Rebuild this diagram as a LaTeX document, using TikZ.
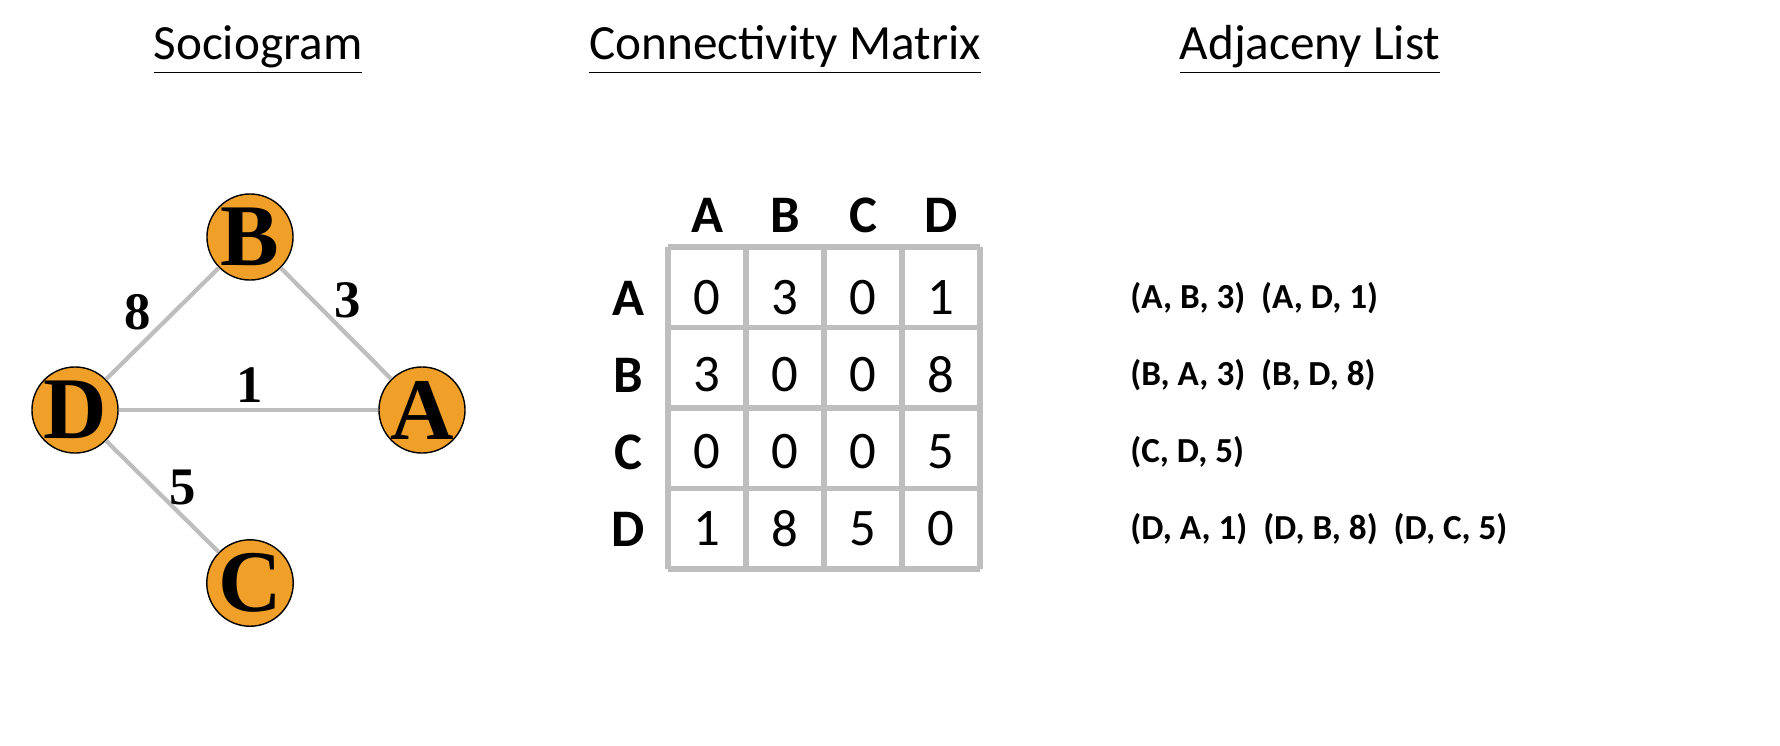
\documentclass[tikz,border=0pt]{standalone}
\usepackage{fontspec}
\setsansfont{Carlito}
\newfontfamily\timesfont{Liberation Serif}
\definecolor{nodeorange}{RGB}{240,160,40}
\definecolor{edgegray}{RGB}{190,190,190}
\begin{document}
\begin{tikzpicture}[x=0.01cm,y=-0.01cm,
  vertex/.style={shape=circle,draw=black,fill=nodeorange,minimum size=0.86cm,inner sep=0pt,font=\timesfont\fontsize{25}{25}\selectfont\bfseries},
  link/.style={-, edgegray, line width=1.2pt},
  wlabel/.style={font=\timesfont\fontsize{15}{15}\selectfont\bfseries},
  title/.style={font=\sffamily\fontsize{14}{14}\selectfont},
  cell/.style={font=\sffamily\fontsize{15}{15}\selectfont},
  head/.style={font=\sffamily\fontsize{15}{15}\selectfont\bfseries},
  pair/.style={font=\sffamily\fontsize{10}{10}\selectfont\bfseries,anchor=west}]

	\useasboundingbox (0,0) rectangle (1780,745);

	\node[title] (t1) at (258,50) {\underline{Sociogram}};
	\node[title] (t2) at (785,50) {\underline{Connectivity Matrix}};
	\node[title] (t3) at (1310,50) {\underline{Adjaceny List}};

	\node[vertex] (b) at (250,237) {B};
	\node[vertex] (a) at (422,410) {A};
	\node[vertex] (d) at (75,410)  {D};
	\node[vertex] (c) at (250,583) {C};

	\path[link] (d) edge (b);
	\path[link] (b) edge (a);
	\path[link] (d) edge (a);
	\path[link] (d) edge (c);
	\node[wlabel] (w8) at (138,312) {8};
	\node[wlabel] (w3) at (348,300) {3};
	\node[wlabel] (w1) at (250,385) {1};
	\node[wlabel] (w5) at (183,487) {5};

	% matrix grid
	\foreach \i in {0,...,4} {
		\draw[edgegray, line width=1.5pt] (668+78*\i,247) -- (668+78*\i,569);
		\draw[edgegray, line width=1.5pt] (668,247+80.5*\i) -- (980,247+80.5*\i);
	}

	\foreach \n [count=\i from 0] in {A,B,C,D} {
		\node[head] (col\n) at (707+78*\i,215) {\n};
		\node[head] (row\n) at (628,298+77*\i) {\n};
	}
	\foreach \r/\vals [count=\j from 0] in {A/{0,3,0,1},B/{3,0,0,8},C/{0,0,0,5},D/{1,8,5,0}} {
		\foreach \v [count=\i from 0] in \vals
			\node[cell] (m\r\i) at (707+78*\i,298+77*\j) {\v};
	}

	\node[pair] (lA) at (1118,298) {(A, B, 3)\ \ (A, D, 1)};
	\node[pair] (lB) at (1118,375) {(B, A, 3)\ \ (B, D, 8)};
	\node[pair] (lC) at (1118,452) {(C, D, 5)};
	\node[pair] (lD) at (1118,529) {(D, A, 1)\ \ (D, B, 8)\ \ (D, C, 5)};

\end{tikzpicture}
\end{document}
